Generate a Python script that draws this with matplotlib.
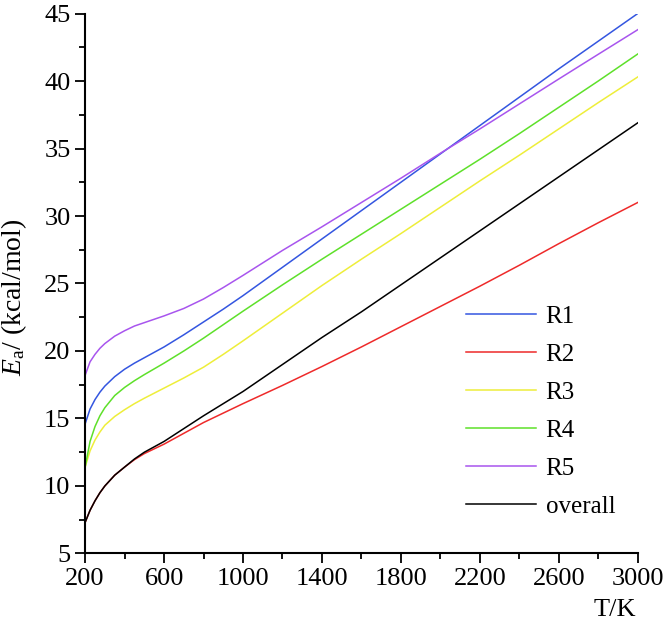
import matplotlib
matplotlib.use("Agg")
import matplotlib.pyplot as plt

plt.rcParams["font.family"] = ["Liberation Serif", "DejaVu Serif"]
plt.rcParams["mathtext.fontset"] = "custom"
plt.rcParams["mathtext.rm"] = "Liberation Serif"
plt.rcParams["mathtext.it"] = "Liberation Serif:italic"

# temperature grid (K)
T = [200, 225, 250, 275, 300, 350, 400, 450, 500, 600, 700, 800, 900, 1000, 1200, 1400,
     1600, 1800, 2000, 2200, 2400, 2600, 2800, 3000]

# activation energies (kcal/mol)
R1 = [14.6, 15.7, 16.4, 16.95, 17.4, 18.1, 18.65, 19.1, 19.5, 20.3, 21.2, 22.15, 23.1, 24.1,
      26.2, 28.3, 30.4, 32.5, 34.6, 36.7, 38.8, 40.9, 42.95, 45.0]
R2 = [7.3, 8.2, 8.9, 9.5, 10.0, 10.8, 11.4, 11.95, 12.4, 13.1, 13.9, 14.7, 15.4, 16.1,
      17.45, 18.85, 20.3, 21.8, 23.3, 24.8, 26.35, 27.95, 29.5, 31.0]
R3 = [11.4, 12.6, 13.4, 14.0, 14.5, 15.15, 15.65, 16.1, 16.5, 17.25, 18.0, 18.8, 19.75, 20.75,
      22.8, 24.85, 26.8, 28.7, 30.65, 32.6, 34.5, 36.45, 38.4, 40.3]
R4 = [11.4, 13.3, 14.4, 15.2, 15.8, 16.7, 17.3, 17.8, 18.25, 19.1, 20.0, 20.95, 21.95, 22.95,
      24.9, 26.8, 28.65, 30.5, 32.35, 34.2, 36.1, 38.05, 40.0, 42.0]
R5 = [18.2, 19.2, 19.75, 20.2, 20.55, 21.1, 21.5, 21.85, 22.1, 22.6, 23.15, 23.85, 24.7, 25.6,
      27.45, 29.2, 31.0, 32.8, 34.65, 36.45, 38.3, 40.15, 41.98, 43.8]
overall = [7.3, 8.2, 8.9, 9.5, 10.0, 10.8, 11.4, 12.0, 12.5, 13.3, 14.25, 15.2, 16.1, 17.0,
           19.0, 21.0, 22.9, 24.9, 26.9, 28.9, 30.9, 32.9, 34.9, 36.9]

series = [("R1", R1, "#3456e0"), ("R2", R2, "#ee2a2a"), ("R3", R3, "#eeee3a"),
          ("R4", R4, "#5ee02a"), ("R5", R5, "#a855ee"), ("overall", overall, "black")]

fig = plt.figure(figsize=(6.65, 6.23), dpi=100)
ax = fig.add_axes([0.128, 0.1116, 0.831, 0.8667])

for name, vals, c in series:
    ax.plot(T, vals, color=c, lw=1.1, label=name)

ax.set_xlim(200, 3000)
ax.set_ylim(5, 45)
ax.set_xticks(range(200, 3001, 400))
ax.set_xticks(range(400, 3000, 400), minor=True)
ax.set_yticks(range(5, 46, 5))
ax.set_yticks([7.5 + 5 * i for i in range(8)], minor=True)

for s in ["top", "right"]:
    ax.spines[s].set_visible(False)
for s in ["left", "bottom"]:
    ax.spines[s].set_linewidth(1.5)
ax.tick_params(which="major", direction="out", length=7, width=1.3, labelsize=19)
ax.tick_params(which="minor", direction="out", length=4, width=1.3)

fig.text(0.021, 0.523, r"$\mathit{E}_{\mathrm{a}}$/ (kcal/mol)", rotation=90,
         ha="center", va="center", fontsize=20)
fig.text(0.925, 0.021, "T/K", ha="center", va="center", fontsize=19)

ax.legend(loc="lower right", bbox_to_anchor=(1.0, 0.024), frameon=False, fontsize=18,
          handlelength=2.8, handletextpad=0.4, labelspacing=0.62)

fig.savefig("out.png", dpi=100)
